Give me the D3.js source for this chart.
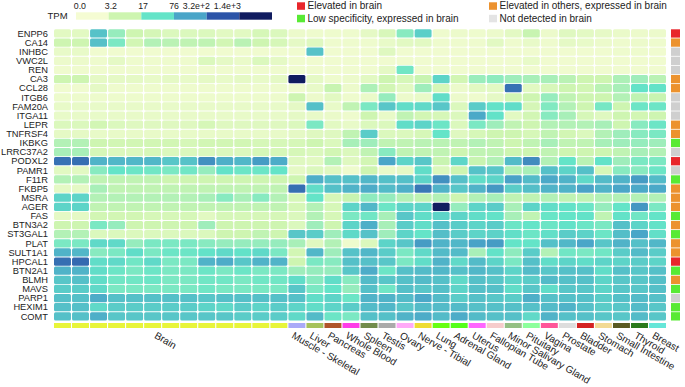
<!DOCTYPE html>
<html>
<head>
<meta charset="utf-8">
<script src="https://cdn.jsdelivr.net/npm/d3@7"></script>
<style>
  body { margin: 0; background: white; }
  text { font-family: "Liberation Sans", Arial, sans-serif; fill: #222; }
</style>
</head>
<body>
<div id="chart"></div>
<script>
// genes (rows), top to bottom
let genes = ["ENPP6","CA14","INHBC","VWC2L","REN","CA3","CCL28","ITGB6","FAM20A","ITGA11",
  "LEPR","TNFRSF4","IKBKG","LRRC37A2","PODXL2","PAMR1","F11R","FKBP5","MSRA","AGER",
  "FAS","BTN3A2","ST3GAL1","PLAT","SULT1A1","HPCAL1","BTN2A1","BLMH","MAVS","PARP1","HEXIM1","COMT"];

// brain specificity class of each gene: E elevated, L low specificity, O elevated in others, N not detected
let geneClass = ["E","O","N","N","N","O","O","N","N","N",
  "O","O","L","N","E","N","L","O","O","O",
  "L","O","L","O","O","E","L","O","L","N","L","L"];

// 13 brain sub-columns, then other tissues
let brainCols = d3.range(1, 14).map(i => "Brain " + i);
let tissues = ["Muscle - Skeletal","Liver","Pancreas","Whole Blood","Spleen","Testis","Ovary",
  "Nerve - Tibial","Lung","Adrenal Gland","Uterus","Fallopian Tube","Minor Salivary Gland",
  "Pituitary","Vagina","Prostate","Bladder","Stomach","Small Intestine","Thyroid","Breast"];
let tissueColors = ["#aaaaf8","#a6c25c","#b0552a","#ff3ce8","#728c4c","#aaaaaa","#ffaaf8",
  "#eedd33","#66ff11","#55ff1a","#ff66ff","#f6cccc","#94c084","#8cff9c","#ff5599",
  "#dddddd","#d42222","#f2da94","#5a5a22","#2a7a1c","#66e6d8"];
let brainColor = "#e8f53a";

// TPM legend
let tpmTicks = [0, 3.2, 17, 76, 320, 1400];
let tpmTickLabels = ["0.0","3.2","17","76","3.2e+2","1.4e+3"];
let tpmColors = ["#f5fcd3","#cdf5b0","#64e4c8","#4aa5c8","#2c54a8","#111c60"];

// TPM values: 13 brain columns followed by the 21 tissues
let brainTPM = [
  [1,1,38,8,3,2.2,1.5,1.5,1.5,1,1,2,1.5],
  [3,3,40,12,2.5,5,4.5,4,4,2.5,4.5,3,2],
  [0.6,0.6,0.2,0.2,0.2,0.2,0.2,0.2,0.2,0.2,0.2,0.2,0.2],
  [0.4,0.4,0.3,0.8,0.3,0.3,0.3,0.3,1.5,0.8,0.5,1.5,0.8],
  [0.25,0.25,0.25,0.25,0.25,0.25,0.25,0.25,0.25,0.25,0.25,0.25,0.25],
  [3,3,0.8,0.8,0.8,0.6,0.8,0.6,0.8,0.6,0.8,0.6,0.8],
  [0.2,0.2,0.8,0.3,0.3,0.3,0.3,0.3,0.3,0.3,0.3,0.3,0.3],
  [0.35,0.35,0.35,0.35,0.35,0.35,0.35,0.35,0.35,0.35,0.35,0.35,0.35],
  [0.6,0.6,0.6,0.6,0.6,0.6,0.6,0.6,0.6,0.6,0.6,0.6,0.6],
  [0.6,0.6,0.6,0.6,0.6,0.6,0.6,0.6,0.6,0.6,0.6,0.6,0.6],
  [1.5,1.5,2.5,1.5,1.2,1.2,1.2,1.2,2,1.2,1.2,1.2,1.2],
  [0.8,0.8,0.6,0.6,0.6,0.6,0.6,0.6,0.6,0.6,0.6,0.6,0.6],
  [5,5,3,2.5,2.5,2.5,2.5,2,2.5,2.5,2.5,2,2],
  [6,6,2,1.5,1.5,2,1.5,1.5,1.5,1.5,1.5,2,2],
  [190,200,55,50,50,50,35,38,110,60,50,90,65],
  [1,1,10,17,15,14,12,14,8,18,15,15,17],
  [5,5,4,4,4,4,3,3,3,3,3,3,3],
  [0.8,0.8,6,4,4,4,4,4,4,4,4,4,4],
  [25,25,5,5,5,5,5,5,6,10,6,10,5],
  [25,25,4,4,4,4,4,4,4,4,4,4,4],
  [0.8,0.8,2.5,2.5,2.5,2,2,2,1,2,2,2,2],
  [3,3,12,8,3,3,3,3,7,3,3,3,3],
  [5,5,1.5,1.5,1.5,1.5,1.5,1.5,1.5,3,3,4,3],
  [12,12,22,22,8,12,12,12,10,8,8,8,8],
  [55,50,10,12,20,12,15,15,18,22,18,22,12],
  [200,220,20,22,14,22,12,12,55,65,35,55,55],
  [55,55,20,15,12,15,12,12,15,12,15,12,12],
  [35,40,20,14,14,15,12,12,14,14,12,14,14],
  [30,30,22,12,12,12,12,12,14,12,12,12,12],
  [40,40,65,40,40,40,40,40,35,40,40,40,40],
  [40,40,22,30,30,30,30,30,25,22,30,25,30],
  [40,40,60,35,35,35,35,35,35,35,30,30,30]
];
let tissueTPM = [
  [0.4,0.3,0.3,0.3,0.8,1.8,10,28,0.3,0.4,0.3,0.4,0.9,3.5,0.4,1.2,0.9,0.7,0.5,0.4,0.4],
  [0.8,1.2,0.3,0.3,0.3,0.6,1,1,0.3,0.3,0.3,1,0.3,0.6,0.3,0.8,0.6,0.4,0.3,0.4,0.3],
  [0.2,38,0.2,0.2,0.2,1.2,0.2,0.2,0.2,0.2,0.2,0.2,0.2,0.2,0.2,0.2,0.2,0.2,0.3,0.3,0.2],
  [0.2,0.2,0.2,0.2,0.2,0.2,0.2,0.2,0.2,0.2,0.2,0.2,0.2,0.6,0.2,0.2,0.2,0.2,0.2,0.2,0.2],
  [0.2,0.2,0.2,0.2,0.2,0.8,14,0.2,0.2,0.2,0.2,0.2,0.2,0.2,0.2,0.2,0.2,0.2,0.2,0.2,0.2],
  [1400,0.8,0.3,0.4,1,3,2,3.5,25,2.5,7.5,9,7,6,6,4.5,3,3,5.5,7,4.5],
  [0.2,0.6,3.5,0.4,5.5,2.5,1,7,2,0.4,1,0.9,190,1,1.8,3,2.5,4.5,6,18,18],
  [3,0.4,1,0.3,0.5,8,0.4,0.6,20,0.4,0.3,0.8,2.5,3,8,4,3,3.2,5,4,3.5],
  [0.8,40,0.6,4,12,35,20,22,35,1.5,30,18,20,2.2,11,5,3,13,3,15,15],
  [0.8,0.6,0.5,0.3,3,0.6,4,2.5,2,1.5,70,18,1,2.5,10,6,2,1.2,3,2.5,3],
  [1.5,12,1,0.6,1.5,1.5,20,25,15,1.5,12,7,4,3,5,5,5,6,3,10,15],
  [0.8,1.2,1.2,4,30,1.5,1.5,2,17,1.2,2,3,3,2,4,2.5,1.5,5,7,10,12],
  [2,3,1.5,6,7,4,4,4.5,4.5,4,5,4,3,4,6,4,4,6,7,8,7],
  [2,1.5,2.5,1.5,4,10,4,4,4,3,4,4,3,3,4,3,3,3,4,6,5],
  [1.2,1,5,1.2,2.5,75,25,35,3.5,24,3.5,5,45,120,5,17,4.5,18,7,12,12],
  [0.8,1.5,1.2,0.3,3,0.5,0.8,20,1.5,3,38,35,5,6,40,25,40,2,10,10,15],
  [3,60,40,40,50,40,40,25,110,40,20,25,80,45,70,55,22,45,55,90,45],
  [200,20,40,55,65,45,60,170,55,35,55,95,30,42,55,55,80,55,75,70,70],
  [2,17,2,3.5,9,8,5,4,5,3,5,6,4,4,5,4,4,5,5,5,5],
  [2,5,2,25,50,15,25,25,1400,8,25,30,6,25,20,18,15,8,17,100,12],
  [1.5,5,2,12,14,6,35,20,25,25,20,18,6,4,16,17,18,4,18,14,17],
  [1.5,7,3,25,60,6,30,20,40,30,25,30,15,17,15,18,15,12,40,25,18],
  [35,30,7,22,38,7,25,17,42,30,25,26,19,15,19,30,26,15,42,75,19],
  [6,1.2,5,0.3,1.5,25,35,90,55,50,80,90,17,17,40,50,75,35,55,40,50],
  [2.5,50,7,38,50,30,12,22,45,45,6,18,9,30,5,14,12,14,30,45,30],
  [3,12,10,40,40,35,12,20,55,22,45,25,12,40,20,25,20,25,25,30,25],
  [7,8,8,35,65,15,40,45,50,40,50,40,25,45,35,40,40,20,40,35,40],
  [20,10,20,10,45,35,40,45,40,22,40,35,25,30,45,40,40,25,35,35,40],
  [35,12,17,8,40,14,40,35,40,25,40,40,20,35,20,35,35,25,35,35,40],
  [40,20,25,15,55,55,45,70,45,30,40,35,30,60,40,40,40,30,40,45,40],
  [25,20,25,30,45,50,35,45,45,45,40,40,40,40,45,55,40,30,35,45,35],
  [22,45,15,12,40,40,55,65,45,65,45,40,40,22,55,40,40,35,35,45,35]
];

let classKeys = ["E","L","O","N"];
let classLabels = ["Elevated in brain","Low specificity, expressed in brain",
  "Elevated in others, expressed in brain","Not detected in brain"];
let classColors = ["#e8262b","#58ea34","#ec922e","#cfcfcf"];
let classLegendColors = ["#e8262b","#58ea34","#ec922e","#e4e4e4"];

let width = 685, height = 387;
let columns = brainCols.concat(tissues);

let svg = d3.select("#chart").append("svg")
  .attr("width", width)
  .attr("height", height)
  .style("background", "white");

let x = d3.scaleBand().domain(columns).range([54, 666]).paddingInner(0.06);
let y = d3.scaleBand().domain(genes).range([29.3, 320.5]).paddingInner(0.09);

let color = d3.scaleSymlog().constant(1)
  .domain(tpmTicks)
  .range(tpmColors)
  .interpolate(d3.interpolateRgb)
  .clamp(true);

let classColor = d3.scaleOrdinal().domain(classKeys).range(classColors);
let tissueColor = d3.scaleOrdinal().domain(columns)
  .range(brainCols.map(() => brainColor).concat(tissueColors));

// flatten into cells
let cells = [];
genes.forEach((g, i) => {
  let row = brainTPM[i].concat(tissueTPM[i]);
  row.forEach((v, j) => cells.push({gene: g, col: columns[j], value: v}));
});

// heatmap
svg.append("g").selectAll("rect")
  .data(cells)
  .join("rect")
    .attr("x", d => x(d.col))
    .attr("y", d => y(d.gene))
    .attr("width", x.bandwidth())
    .attr("height", y.bandwidth())
    .attr("rx", 1.5)
    .attr("fill", d => color(d.value));

// class column
svg.append("g").selectAll("rect")
  .data(genes)
  .join("rect")
    .attr("x", 671)
    .attr("y", d => y(d))
    .attr("width", 9)
    .attr("height", y.bandwidth())
    .attr("fill", (d, i) => classColor(geneClass[i]));

// gene labels
svg.append("g").selectAll("text")
  .data(genes)
  .join("text")
    .attr("x", 48)
    .attr("y", d => y(d) + y.bandwidth() / 2)
    .attr("dy", "0.35em")
    .attr("text-anchor", "end")
    .style("font-size", "9.3px")
    .text(d => d);

// tissue colour bar
svg.append("g").selectAll("rect")
  .data(columns)
  .join("rect")
    .attr("x", d => x(d))
    .attr("y", 323)
    .attr("width", x.bandwidth())
    .attr("height", 5)
    .attr("fill", d => tissueColor(d));

// tissue labels (rotated)
let labelY = 337.5;
let tissueLabels = [{name: "Brain", px: (x(brainCols[0]) + x(brainCols[12]) + x.bandwidth()) / 2 - 17}]
  .concat(tissues.map(t => ({name: t, px: x(t) + 2.5})));
svg.append("g").selectAll("text")
  .data(tissueLabels)
  .join("text")
    .attr("transform", d => "translate(" + d.px + "," + labelY + ") rotate(30)")
    .style("font-size", "10px")
    .text(d => d.name);

// TPM legend
let legX = d3.scaleLinear().domain([0, 6]).range([76, 272]);
let legLabelX = d3.scaleLinear().domain([0, 5]).range([86, 241]);
let leg = svg.append("g");
leg.selectAll("rect")
  .data(tpmColors)
  .join("rect")
    .attr("x", (d, i) => legX(i))
    .attr("y", 12.3)
    .attr("width", legX(1) - legX(0))
    .attr("height", 7.4)
    .attr("fill", d => d);
leg.selectAll("text.tick")
  .data(tpmTickLabels)
  .join("text")
    .attr("class", "tick")
    .attr("x", (d, i) => legLabelX(i))
    .attr("y", 8.5)
    .attr("text-anchor", "end")
    .style("font-size", "8.8px")
    .text(d => d);
leg.append("text")
  .attr("x", 47.5)
  .attr("y", 19.3)
  .style("font-size", "9.5px")
  .text("TPM");

// class legend
let clsLeg = svg.append("g");
classLabels.forEach((lab, i) => {
  let cx = i < 2 ? 297 : 489;
  let cy = i % 2 === 0 ? 2.3 : 14.8;
  clsLeg.append("rect").attr("x", cx).attr("y", cy).attr("width", 8).attr("height", 7.5)
    .attr("fill", classLegendColors[i]);
  clsLeg.append("text").attr("x", cx + 10.5).attr("y", cy + 7)
    .style("font-size", "10px").text(lab);
});
</script>
</body>
</html>
